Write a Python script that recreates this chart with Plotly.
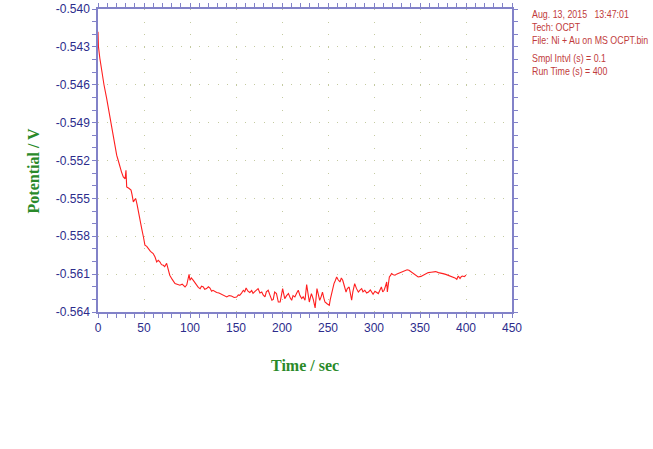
import plotly.graph_objects as go

# Open-circuit potential record (time in s, potential in V)
time_s = [
    0, 0.5, 2, 4, 6.5, 9.4, 12, 14.9, 17.8, 20.3,
    22, 23.9, 25.5, 27.5, 29.5, 30.4, 31.2, 33.5, 35.9, 37,
    38.4, 40, 41, 42.5, 43.8, 45.5, 47.5, 49.5, 51, 53,
    54.7, 57, 60, 62, 63.8, 65.5, 67.4, 69, 71, 72.5,
    74.6, 76, 78, 80.5, 83.7, 86, 89, 91.5, 94.6, 96.5,
    98, 99, 100, 101.5, 103.6, 105, 107, 109, 111, 112.5,
    114.5, 116, 118, 120, 121.7, 123.5, 125, 127, 129, 131.5,
    134.5, 137, 140, 142.5, 145, 148, 150.7, 152.5, 154, 156,
    158, 159.5, 161, 163, 165, 167, 168.5, 170.7, 172.5, 174,
    176, 178, 179.5, 181.5, 183, 185, 187, 189, 190.5, 192,
    194, 196, 198, 199.5, 200.7, 202, 203, 205, 207, 209,
    210.5, 212, 214, 216, 217.7, 219.5, 221.4, 223, 225, 226.8,
    228, 229.7, 231, 232, 234, 236, 238, 239.5, 241, 242.5,
    244, 245.5, 246.7, 249, 251.4, 252.5, 254, 255.5, 256.5, 258,
    259.4, 261, 263, 264.5, 266, 268, 269.6, 271, 273, 274.5,
    275.7, 277, 279, 281, 283, 285, 286.6, 288, 290, 292,
    294, 296, 297.5, 299, 301, 303, 304.7, 306.5, 308, 309.5,
    311, 312.5, 313.8, 314.5, 315.5, 316.7, 318, 319, 321, 322.8,
    325, 328, 331, 333.7, 336, 338, 340, 342.7, 345, 348,
    351, 353.6, 356, 359, 362, 364.5, 367, 370, 372.5, 375,
    378, 381, 383.5, 386, 388, 390, 391.6, 393.5, 395, 396.4,
    398, 400,
]

potential_v = [
    -0.54180, -0.54299, -0.54390, -0.54497, -0.54600, -0.54708, -0.54814, -0.54946, -0.55052, -0.55158,
    -0.55200, -0.55263, -0.55290, -0.55330, -0.55345, -0.55277, -0.55409, -0.55420, -0.55435, -0.55470,
    -0.55528, -0.55510, -0.55501, -0.55550, -0.55607, -0.55670, -0.55739, -0.55810, -0.55871, -0.55880,
    -0.55897, -0.55920, -0.55937, -0.55965, -0.56004, -0.55990, -0.56004, -0.56025, -0.56030, -0.56040,
    -0.56014, -0.56060, -0.56109, -0.56140, -0.56175, -0.56180, -0.56188, -0.56180, -0.56202, -0.56185,
    -0.56135, -0.56101, -0.56149, -0.56130, -0.56149, -0.56165, -0.56188, -0.56205, -0.56215, -0.56195,
    -0.56202, -0.56220, -0.56215, -0.56200, -0.56210, -0.56235, -0.56228, -0.56240, -0.56246, -0.56250,
    -0.56262, -0.56275, -0.56281, -0.56270, -0.56273, -0.56285, -0.56281, -0.56265, -0.56268, -0.56250,
    -0.56228, -0.56240, -0.56210, -0.56235, -0.56246, -0.56230, -0.56252, -0.56236, -0.56225, -0.56215,
    -0.56250, -0.56242, -0.56265, -0.56281, -0.56240, -0.56228, -0.56268, -0.56307, -0.56300, -0.56242,
    -0.56254, -0.56321, -0.56321, -0.56270, -0.56215, -0.56260, -0.56294, -0.56270, -0.56254, -0.56290,
    -0.56307, -0.56270, -0.56281, -0.56250, -0.56228, -0.56270, -0.56294, -0.56280, -0.56307, -0.56183,
    -0.56250, -0.56321, -0.56280, -0.56254, -0.56300, -0.56368, -0.56215, -0.56270, -0.56307, -0.56280,
    -0.56242, -0.56290, -0.56321, -0.56335, -0.56347, -0.56300, -0.56242, -0.56210, -0.56175, -0.56150,
    -0.56123, -0.56145, -0.56162, -0.56130, -0.56149, -0.56200, -0.56242, -0.56215, -0.56202, -0.56260,
    -0.56307, -0.56240, -0.56175, -0.56215, -0.56242, -0.56225, -0.56215, -0.56240, -0.56228, -0.56250,
    -0.56242, -0.56225, -0.56246, -0.56260, -0.56236, -0.56245, -0.56254, -0.56225, -0.56202, -0.56240,
    -0.56228, -0.56195, -0.56162, -0.56242, -0.56190, -0.56123, -0.56110, -0.56096, -0.56105, -0.56109,
    -0.56098, -0.56089, -0.56080, -0.56069, -0.56065, -0.56069, -0.56080, -0.56096, -0.56112, -0.56123,
    -0.56118, -0.56109, -0.56100, -0.56088, -0.56085, -0.56083, -0.56080, -0.56088, -0.56090, -0.56096,
    -0.56102, -0.56109, -0.56115, -0.56123, -0.56130, -0.56141, -0.56115, -0.56135, -0.56118, -0.56115,
    -0.56120, -0.56109,
]
assert len(time_s) == len(potential_v)

x_ticks = [0, 50, 100, 150, 200, 250, 300, 350, 400, 450]
y_ticks = [-0.564, -0.561, -0.558, -0.555, -0.552, -0.549, -0.546, -0.543, -0.540]
x_tick_labels = [str(v) for v in x_ticks]
y_tick_labels = [f"{v:.3f}" for v in y_ticks]

info_lines = [
    "Aug. 13, 2015   13:47:01",
    "Tech: OCPT",
    "File: Ni + Au on MS OCPT.bin",
    "Smpl Intvl (s) = 0.1",
    "Run Time (s) = 400",
]
info_y = [0.984, 0.941, 0.898, 0.839, 0.796]

AXIS = "#8282c8"
TICKTXT = "#2c2c8c"
GRID = "#c4caa0"
TITLE_GREEN = "#2a8a2a"
INFO_RED = "#bf3b3b"
SANS = "Liberation Sans, Arial, sans-serif"
TICK_FONT = dict(family=SANS, size=12, color=TICKTXT)

fig = go.Figure()
fig.add_trace(go.Scatter(
    x=time_s, y=potential_v, mode="lines",
    line=dict(color="#ff1f1f", width=1.1),
    showlegend=False, hoverinfo="skip",
))

fig.update_layout(
    width=653, height=449,
    margin=dict(l=98, r=141, t=9, b=137, autoexpand=False),
    paper_bgcolor="white", plot_bgcolor="white",
    showlegend=False,
)

fig.update_xaxes(
    range=[0, 450], tickmode="array", tickvals=x_ticks, ticktext=x_tick_labels,
    showline=True, linecolor=AXIS, linewidth=1.5, mirror="allticks",
    ticks="outside", ticklen=4, tickwidth=1, tickcolor=AXIS,
    minor=dict(tickmode="linear", tick0=0, dtick=10, ticks="outside", ticklen=4,
               tickcolor=AXIS, showgrid=False),
    showgrid=True, gridcolor=GRID, gridwidth=1, griddash="1px,11.6px",
    zeroline=False, tickfont=TICK_FONT, automargin=False,
)
fig.update_yaxes(
    range=[-0.564, -0.540], tickmode="array", tickvals=y_ticks, ticktext=y_tick_labels,
    showline=True, linecolor=AXIS, linewidth=1.5, mirror="allticks",
    ticks="outside", ticklen=4, tickwidth=1, tickcolor=AXIS,
    minor=dict(tickmode="linear", tick0=-0.564, dtick=0.001, ticks="outside", ticklen=4,
               tickcolor=AXIS, showgrid=False),
    showgrid=True, gridcolor=GRID, gridwidth=1, griddash="1px,8.2px",
    zeroline=False, tickfont=TICK_FONT, automargin=False,
)

title_font = dict(family="Liberation Serif, Times New Roman, serif", size=16, color=TITLE_GREEN)
fig.add_annotation(
    text="<b>Time / sec</b>", xref="paper", yref="paper", x=0.5, y=-0.175,
    xanchor="center", yanchor="middle", showarrow=False, font=title_font,
)
fig.add_annotation(
    text="<b>Potential / V</b>", xref="paper", yref="paper", x=-0.157, y=0.464,
    xanchor="center", yanchor="middle", textangle=-90, showarrow=False, font=title_font,
)

for line, yy in zip(info_lines, info_y):
    fig.add_annotation(
        text=line, xref="paper", yref="paper", x=1.0435, y=yy,
        xanchor="left", yanchor="middle", align="left", showarrow=False,
        font=dict(family=SANS, size=10.8, color=INFO_RED),
    )

# Narrow the sans-serif labels horizontally (condensed look), pivoting on
# each label's anchor side so positions stay put.
narrow_js = """
var gd = document.getElementById('{plot_id}');
function squeeze(nodes, s, side) {
  nodes.forEach(function(t) {
    var b = t.getBBox();
    var px = side === 'left' ? b.x : (side === 'right' ? b.x + b.width : b.x + b.width / 2);
    var tr = t.getAttribute('transform') || '';
    t.setAttribute('transform', tr + ' translate(' + (px * (1 - s)) + ',0) scale(' + s + ',1)');
  });
}
squeeze(gd.querySelectorAll('text.ytick'), 0.82, 'right');
squeeze(gd.querySelectorAll('text.xtick'), 0.82, 'center');
var info = [];
gd.querySelectorAll('g.annotation').forEach(function(g) {
  if (parseInt(g.getAttribute('data-index'), 10) >= 2) {
    g.querySelectorAll('text').forEach(function(t) { info.push(t); });
  }
});
squeeze(info, 0.82, 'left');
"""

fig.write_html("out.html", post_script=narrow_js)
